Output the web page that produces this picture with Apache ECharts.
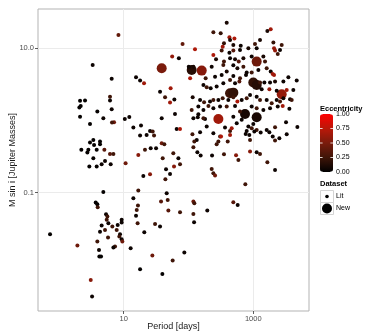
<!DOCTYPE html>
<html>
<head>
<meta charset="utf-8">
<script src="https://cdn.jsdelivr.net/npm/echarts@6.0.0/dist/echarts.min.js"></script>
<style>
  html, body { margin: 0; padding: 0; background: #fff; }
  #chart { width: 386px; height: 336px; }
</style>
</head>
<body>
<div id="chart"></div>
<script>
// literature planets: period [days], M sin i [M_J], eccentricity
const litPeriod = [
  389, 8.3, 242, 314, 428, 511, 438, 1857, 1648, 81,
  126, 353, 337, 492, 640, 839, 1128, 1270, 1063, 2042,
  2091, 2167, 2743, 2586, 2383, 242, 325, 428, 492, 624,
  56, 71, 266, 353, 438, 523, 596, 703, 944, 1430,
  1517, 3.32, 101, 119, 228, 345, 492, 568, 703, 791,
  944, 1197, 1610, 1857, 1994, 2091, 106, 257, 184, 325,
  389, 492, 624, 772, 6.53, 15.5, 17.9, 20.6, 170, 191,
  220, 272, 345, 438, 523, 610, 1270, 1482, 1813, 2167,
  2913, 3476, 4677, 53, 36.4, 43.5, 51.9, 60.5, 116, 151,
  174, 215, 242, 289, 337, 412, 492, 568, 662, 791,
  891, 1128, 1270, 1610, 1923, 2298, 2586, 2913, 3690, 3914,
  4150, 3278, 2298, 1770, 1347, 2.12, 2.53, 2.07, 2.12, 2.17,
  6.15, 6.15, 6.53, 7.10, 6.60, 3.02, 3.92, 4.85, 10.4, 12.2,
  38.6, 61.9, 65.7, 74, 119, 139, 180, 191, 242, 307,
  366, 438, 464, 555, 839, 944, 791, 1000, 1128, 1300,
  1610, 1770, 2167, 3200, 4786, 3278, 1994, 2167, 2526, 112,
  142, 170, 203, 242, 307, 389, 523, 624, 944, 1128,
  1430, 1813, 2383, 2843, 3605, 142, 170, 492, 662, 115,
  151, 134, 123, 318, 438, 403, 289, 272, 763, 869,
  891, 1038, 3.02, 3.40, 4.31, 3.49, 3.83, 4.31, 2.85, 2.75,
  2.22, 3.40, 2.95, 3.83, 4.57, 5.03, 6.15, 6.93, 5.15, 6.30,
  10.7, 14.1, 18.5, 17.9, 22.6, 25.5, 28.0, 29.4, 26.1, 21.3,
  31.6, 38.6, 42.4, 16.8, 20.1, 25.5, 40.0, 45.0, 58.3, 69.8,
  74.0, 59.8, 51.9, 44.0, 119, 137, 154, 231, 353, 542,
  589, 891, 1128, 1270, 228, 242, 257, 1648, 2167, 754,
  4.85, 3.70, 3.92, 3.97, 16.8, 14.1, 16.6, 15.9, 15.5, 16.4,
  37.7, 46.1, 47.8, 48.9, 74.0, 119, 123, 119, 122, 195,
  492, 574, 5.34, 5.60, 5.47, 5.80, 4.57, 4.31, 5.15, 5.73,
  6.68, 8.08, 7.80, 9.31, 9.31, 8.78, 8.57, 9.31, 9.53, 7.35,
  6.93, 3.92, 4.16, 4.21, 4.47, 0.73, 1.93, 20.8, 30.5, 36.4,
  27.7, 12.8, 17.9, 39.5, 57.0, 86.3, 3.10, 3.25
];
const litMass = [
  22.6, 15.3, 16.7, 16.1, 14.2, 13.7, 13.0, 18.3, 17.4, 11.5,
  9.7, 11.7, 10.5, 11.1, 10.8, 10.0, 10.0, 13.0, 11.5, 12.0,
  10.0, 9.3, 11.1, 9.5, 8.35, 8.09, 9.3, 8.7, 9.3, 9.5,
  7.67, 7.28, 7.05, 6.54, 7.28, 7.05, 6.54, 7.28, 7.67, 7.67,
  6.54, 5.87, 5.57, 5.57, 5.57, 5.87, 5.82, 5.29, 5.57, 4.61,
  4.61, 5.01, 5.29, 4.76, 4.42, 4.28, 3.85, 4.05, 3.85, 4.28,
  4.76, 4.14, 3.85, 4.28, 3.80, 3.97, 3.57, 3.28, 3.11, 2.88,
  2.79, 2.95, 3.28, 3.65, 3.28, 3.46, 3.35, 3.35, 3.35, 3.46,
  3.46, 3.97, 3.57, 2.79, 2.51, 2.10, 1.77, 1.95, 2.10, 1.93,
  1.79, 1.83, 1.93, 1.93, 2.03, 1.93, 2.10, 1.83, 1.93, 2.03,
  2.26, 2.14, 1.93, 1.93, 1.73, 1.93, 1.83, 2.03, 1.97, 1.93,
  2.65, 2.65, 2.59, 2.71, 2.71, 1.87, 1.89, 1.51, 1.13, 1.59,
  2.14, 1.89, 1.43, 0.946, 0.936, 0.896, 1.33, 1.07, 1.05, 1.12,
  1.07, 1.23, 0.764, 0.764, 1.07, 1.11, 1.05, 0.823, 0.665, 0.598,
  0.798, 0.718, 0.78, 0.916, 0.823, 0.78, 0.718, 0.896, 0.74, 0.68,
  0.74, 0.687, 0.806, 0.946, 0.815, 0.644, 0.598, 0.527, 0.567, 1.40,
  1.56, 1.40, 1.59, 1.48, 1.56, 1.56, 1.59, 1.33, 1.56, 1.48,
  1.40, 1.48, 1.56, 1.59, 1.45, 1.22, 1.07, 1.13, 1.02, 0.644,
  0.687, 0.538, 0.511, 0.598, 0.631, 0.511, 0.511, 0.469, 0.651, 0.631,
  0.538, 0.702, 0.494, 0.538, 0.511, 0.459, 0.392, 0.469, 0.392, 0.359,
  0.392, 0.30, 0.23, 0.23, 0.248, 0.392, 0.344, 0.344, 0.275, 0.248,
  0.256, 0.798, 0.85, 0.618, 0.631, 0.718, 0.702, 0.618, 0.413, 0.392,
  0.413, 0.484, 0.469, 0.334, 0.171, 0.180, 0.30, 0.211, 0.352, 0.30,
  0.248, 0.23, 0.182, 0.154, 0.426, 0.363, 0.327, 0.327, 0.341, 0.330,
  0.284, 0.371, 0.363, 0.344, 0.213, 0.186, 0.173, 0.264, 0.207, 0.131,
  0.102, 0.073, 0.0692, 0.0629, 0.107, 0.0838, 0.0663, 0.0578, 0.0478, 0.0378,
  0.0753, 0.0984, 0.0795, 0.0566, 0.0537, 0.0753, 0.0714, 0.0509, 0.039, 0.0566,
  0.0738, 0.0677, 0.0504, 0.0468, 0.0421, 0.0378, 0.0351, 0.0289, 0.0305, 0.0239,
  0.034, 0.0358, 0.0305, 0.0386, 0.0421, 0.0266, 0.0247, 0.0227, 0.0211, 0.018,
  0.0174, 0.0211, 0.0161, 0.0131, 0.0131, 0.0266, 0.0186, 0.0284, 0.037, 0.034,
  0.0135, 0.017, 0.0087, 0.0075, 0.0115, 0.0148, 0.0062, 0.00365
];
const litEcc = [
  .1, .4, .25, .2, .65, .7, .1, .65, .1, .4,
  .7, .2, .65, .1, .05, .1, .05, .1, .25, .2,
  .6, .6, .25, .05, .25, .7, .25, .05, .35, .05,
  .6, .05, .1, .25, .05, .1, .35, .1, .05, .1,
  .25, .05, .05, .1, .05, .25, .05, .1, .25, .05,
  .25, .05, .25, .05, .65, .65, .7, .05, .25, .05,
  .1, .05, .25, .05, .05, .05, .05, .65, .05, .25,
  .05, .05, .05, .25, .05, .35, .25, .05, .05, .1,
  .05, .05, .05, .65, .05, .25, .65, .05, .1, .05,
  .25, .05, .25, .05, .25, .05, .25, .7, .05, .25,
  .05, .05, .25, .05, .25, .05, .25, .05, .05, .25,
  .05, .65, .05, .6, .05, .02, .02, .02, .02, .02,
  .25, .05, .05, .45, .25, .02, .02, .05, .05, .05,
  .05, .05, .05, .7, .05, .05, .05, .05, .05, .25,
  .05, .25, .65, .05, .05, .25, .05, .05, .25, .05,
  .05, .05, .25, .05, .05, .05, .05, .25, .05, .25,
  .05, .05, .25, .05, .05, .25, .05, .25, .05, .25,
  .05, .05, .05, .65, .05, .05, .25, .05, .05, .25,
  .05, .05, .25, .7, .65, .25, .25, .25, .05, .05,
  .25, .05, .02, .02, .02, .02, .02, .02, .02, .02,
  .02, .02, .02, .02, .05, .35, .35, .25, .05, .05,
  .45, .05, .05, .05, .05, .05, .25, .25, .05, .25,
  .05, .45, .25, .55, .05, .55, .25, .05, .25, .05,
  .25, .55, .05, .25, .25, .05, .05, .05, .25, .55,
  .25, .55, .05, .25, .25, .25, .45, .25, .05, .25,
  .02, .02, .02, .25, .25, .05, .25, .25, .05, .25,
  .35, .05, .25, .35, .25, .45, .25, .25, .05, .05,
  .35, .05, .05, .25, .25, .05, .05, .05, .25, .25,
  .25, .05, .25, .05, .05, .05, .25, .05, .45, .25,
  .05, .25, .05, .02, .02, .02, .45, .05, .25, .05,
  .45, .05, .02, .02, .25, .05, .55, .05
];

// new planets
const newPeriod = [38.6, 112, 160, 1128, 1000, 1128, 438, 492, 2743, 289, 745, 1128];
const newMass = [5.29, 5.01, 4.91, 6.54, 3.35, 3.11, 2.38, 2.43, 2.31, 1.05, 1.23, 1.11];
const newEcc = [.5, .15, .55, .45, .2, .15, .25, .2, .6, .65, .1, .1];

const eccTicks = [1.00, 0.75, 0.50, 0.25, 0.00];
const xLabelValues = [10, 1000];
const yLabelValues = [0.1, 10];

const FONT = "'Liberation Sans', Arial, Helvetica, sans-serif";

const litData = litPeriod.map((p, i) => [p, litMass[i], litEcc[i]]);
const newData = newPeriod.map((p, i) => [p, newMass[i], newEcc[i]]);

// colour bar geometry
const barX = 320, barY = 114, barW = 13, barH = 58;

const graphics = [
  { type: 'text', left: 320, top: 105, style: { text: 'Eccentricity', font: 'bold 7.5px ' + FONT, fill: '#000' } },
  { type: 'text', left: 320, top: 180, style: { text: 'Dataset', font: 'bold 7.5px ' + FONT, fill: '#000' } },
  // dataset keys
  { type: 'rect', shape: { x: 320.5, y: 190.5, width: 13, height: 12 }, style: { fill: '#fff', stroke: '#d4d4d4', lineWidth: 1 } },
  { type: 'rect', shape: { x: 320.5, y: 202.5, width: 13, height: 12 }, style: { fill: '#fff', stroke: '#d4d4d4', lineWidth: 1 } },
  { type: 'circle', shape: { cx: 327, cy: 196.5, r: 1.8 }, style: { fill: '#000' } },
  { type: 'circle', shape: { cx: 327, cy: 208.5, r: 5 }, style: { fill: '#000' } },
  { type: 'text', x: 336, y: 196.5, style: { text: 'Lit', font: '7px ' + FONT, fill: '#000', textVerticalAlign: 'middle' } },
  { type: 'text', x: 336, y: 208.5, style: { text: 'New', font: '7px ' + FONT, fill: '#000', textVerticalAlign: 'middle' } }
];
eccTicks.forEach(v => {
  const y = barY + (1 - v) * barH;
  graphics.push({ type: 'text', x: 336, y: y, style: { text: v.toFixed(2), font: '7px ' + FONT, fill: '#000', textVerticalAlign: 'middle' } });
  graphics.push({ type: 'line', shape: { x1: barX, y1: y, x2: barX + 2.6, y2: y }, style: { stroke: '#fff', lineWidth: 0.8 }, z: 100 });
  graphics.push({ type: 'line', shape: { x1: barX + barW - 2.6, y1: y, x2: barX + barW, y2: y }, style: { stroke: '#fff', lineWidth: 0.8 }, z: 100 });
});

const chart = echarts.init(document.getElementById('chart'));

chart.setOption({
  animation: false,
  backgroundColor: '#fff',
  grid: {
    left: 38, right: 77, top: 9, bottom: 25,
    outerBoundsMode: 'none', containLabel: false,
    show: true, borderColor: '#b3b3b3', borderWidth: 1, backgroundColor: 'transparent'
  },
  xAxis: {
    type: 'log',
    logBase: 10,
    min: 0.476,
    max: 7240,
    name: 'Period [days]',
    nameLocation: 'middle',
    nameGap: 11,
    nameMoveOverlap: false,
    nameTextStyle: { fontFamily: FONT, fontSize: 9, color: '#1a1a1a' },
    axisLine: { show: false },
    axisTick: { show: true, length: 3, lineStyle: { color: '#333', width: 0.8 }, customValues: xLabelValues },
    axisLabel: {
      customValues: xLabelValues,
      margin: 4, fontFamily: FONT, fontSize: 7.5, color: '#4d4d4d',
      formatter: v => { const e = Math.round(Math.log10(v)); return e === 1 ? '10' : e === 3 ? '1000' : ''; }
    },
    splitLine: { show: true, lineStyle: { color: '#ebebeb', width: 1 } }
  },
  yAxis: {
    type: 'log',
    logBase: 10,
    min: 0.0023,
    max: 35,
    name: 'M sin i [Jupiter Masses]',
    nameLocation: 'middle',
    nameGap: 21,
    nameMoveOverlap: false,
    nameTextStyle: { fontFamily: FONT, fontSize: 9, color: '#1a1a1a' },
    axisLine: { show: false },
    axisTick: { show: true, length: 3, lineStyle: { color: '#333', width: 0.8 }, customValues: yLabelValues },
    axisLabel: {
      customValues: yLabelValues,
      margin: 4, fontFamily: FONT, fontSize: 7.5, color: '#4d4d4d',
      formatter: v => { const e = Math.round(Math.log10(v)); return e === 1 ? '10.0' : e === -1 ? '0.1' : ''; }
    },
    splitLine: { show: true, lineStyle: { color: '#ebebeb', width: 1 } }
  },
  visualMap: {
    type: 'continuous',
    min: 0,
    max: 1,
    dimension: 2,
    seriesIndex: [0, 1],
    calculable: false,
    hoverLink: false,
    left: barX,
    top: barY,
    padding: 0,
    itemWidth: barW,
    itemHeight: barH,
    inRange: { color: ['#000000', '#3f1508', '#7a1b0c', '#ba1809', '#ff0000'] }
  },
  graphic: graphics,
  series: [
    {
      name: 'New',
      type: 'scatter',
      symbol: 'circle',
      symbolSize: 10,
      data: newData,
      itemStyle: { opacity: 1 },
      emphasis: { disabled: true }
    },
    {
      name: 'Lit',
      type: 'scatter',
      symbol: 'circle',
      symbolSize: 4,
      data: litData,
      itemStyle: { opacity: 1 },
      emphasis: { disabled: true }
    }
  ]
});
</script>
</body>
</html>
